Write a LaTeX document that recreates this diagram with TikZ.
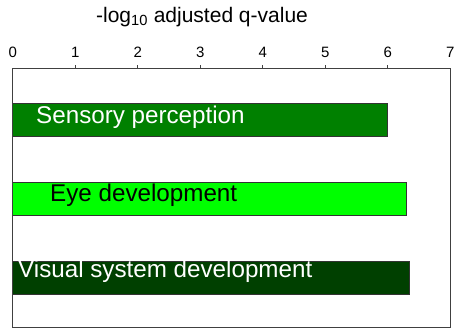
\documentclass[tikz,border=0pt]{standalone}
\usepackage{fontspec}
\setmainfont{Liberation Sans}
\definecolor{barA}{RGB}{0,128,0}
\definecolor{barB}{RGB}{0,255,0}
\definecolor{barC}{RGB}{0,64,0}
\definecolor{framec}{RGB}{64,64,64}
\begin{document}
\begin{tikzpicture}[x=1pt,y=-1pt,
  frame/.style={draw=framec,line width=0.9pt},
  barbox/.style={draw=black!80,line width=0.8pt},
  ticklab/.style={font=\fontsize{15}{15}\selectfont,inner sep=0pt},
  barlab/.style={font=\fontsize{24.2}{24.2}\selectfont,anchor=west,inner sep=0pt}]
\useasboundingbox (0,0) rectangle (455,331);
\def\xo{12.7}
\def\u{62.5}
% bars
\filldraw[barbox,fill=barA] (\xo,103.3) rectangle ({\xo+6.0*\u},136.7);
\filldraw[barbox,fill=barB] (\xo,182.3) rectangle ({\xo+6.3*\u},215.3);
\filldraw[barbox,fill=barC] (\xo,261) rectangle ({\xo+6.35*\u},294);
\node[barlab,text=white] (l1) at (36,117) {Sensory perception};
\node[barlab,text=black] (l2) at (50,195.5) {Eye development};
\node[barlab,text=white] (l3) at (18,271.5) {Visual system development};
% frame and axis
\draw[frame] (\xo,68.3) rectangle (450,327.7);
\foreach \i in {1,...,6} {
  \draw[frame] ({\xo+\i*\u},68.3) -- ++(0,-3);
}
\foreach \i in {0,...,7} {
  \node[ticklab] (t\i) at ({\xo+\i*\u},52) {\i};
}
\node[font=\fontsize{21}{21}\selectfont,inner sep=0pt] (title) at (202,17) {-log\textsubscript{10} adjusted q-value};
\end{tikzpicture}
\end{document}
